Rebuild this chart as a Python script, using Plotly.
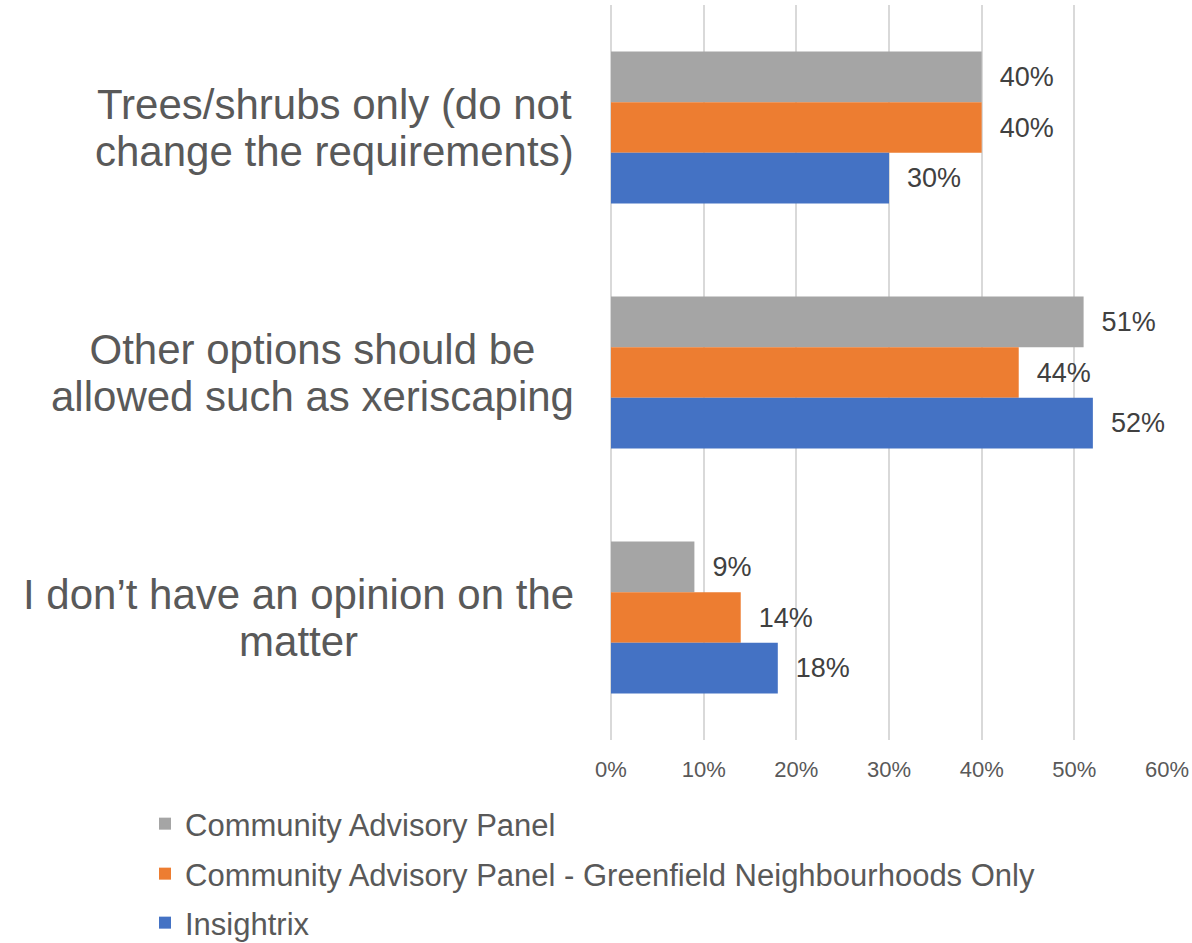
import plotly.graph_objects as go

# Survey answers (top to bottom) and share of respondents per panel, in percent
categories = [
    "Trees/shrubs only (do not<br>change the requirements)",
    "Other options should be<br>allowed such as xeriscaping",
    "I don\u2019t have an opinion on the<br>matter",
]
series_names = [
    "Community Advisory Panel",
    "Community Advisory Panel - Greenfield Neighbourhoods Only",
    "Insightrix",
]
cap_values = [40, 51, 9]
cap_greenfield_values = [40, 44, 14]
insightrix_values = [30, 52, 18]
x_ticks = [0, 10, 20, 30, 40, 50, 60]
x_tick_labels = ["0%", "10%", "20%", "30%", "40%", "50%", "60%"]

colors = ["#A5A5A5", "#ED7D31", "#4472C4"]
FONT = "Liberation Sans, Arial, sans-serif"
W, H = 1192, 943
L, R, T, B = 611, 25, 5, 203
plot_w = W - L - R

fig = go.Figure()
all_values = [cap_values, cap_greenfield_values, insightrix_values]
legend_ids = ["legend", "legend2", "legend3"]
for name, vals, col, lg in zip(series_names, all_values, colors, legend_ids):
    labels = ["\u00a0\u00a0" + str(v) + "%" for v in vals]
    fig.add_trace(go.Bar(
        y=categories,
        x=vals,
        name=name,
        orientation="h",
        marker=dict(color=col, line=dict(width=0)),
        text=labels,
        texttemplate="%{text}",
        textposition="outside",
        constraintext="none",
        cliponaxis=False,
        textfont=dict(family=FONT, size=27, color="#404040"),
        legend=lg,
        hoverinfo="skip",
    ))

# Category labels: right-aligned block, lines centred within it.
# The outer font size sets the line pitch, the span sets the glyph size.
for cat in categories:
    fig.add_annotation(
        xref="paper", yref="y",
        x=(576 - L) / plot_w, y=cat,
        text='<span style="font-size:42px">' + cat.replace(
            "<br>", '</span><br><span style="font-size:42px">') + "</span>",
        showarrow=False,
        xanchor="right", yanchor="middle", align="center",
        font=dict(family=FONT, size=36, color="#595959"),
    )

legend_common = dict(
    font=dict(family=FONT, size=31, color="#595959"),
    bgcolor="rgba(0,0,0,0)",
    xref="container", yref="container",
    xanchor="left", yanchor="middle",
    x=145 / W,
    orientation="v",
)
fig.update_layout(
    width=W, height=H,
    margin=dict(l=L, r=R, t=T, b=B, pad=0, autoexpand=False),
    paper_bgcolor="white", plot_bgcolor="white",
    barmode="group", bargap=0.38, bargroupgap=0,
    showlegend=True,
    legend=dict(y=1 - 824 / H, **legend_common),
    legend2=dict(y=1 - 874 / H, **legend_common),
    legend3=dict(y=1 - 923 / H, **legend_common),
    xaxis=dict(
        range=[0, 60],
        tickvals=x_ticks, ticktext=x_tick_labels,
        showgrid=True, gridcolor="#D9D9D9", gridwidth=2,
        zeroline=True, zerolinecolor="#D9D9D9", zerolinewidth=2,
        showline=False, ticks="",
        ticklabelstandoff=14,
        tickfont=dict(family=FONT, size=22, color="#595959"),
        fixedrange=True,
    ),
    yaxis=dict(
        autorange="reversed",
        showticklabels=False, showgrid=False, zeroline=False,
        showline=False, ticks="",
        fixedrange=True,
    ),
)

fig.write_html("out.html")
